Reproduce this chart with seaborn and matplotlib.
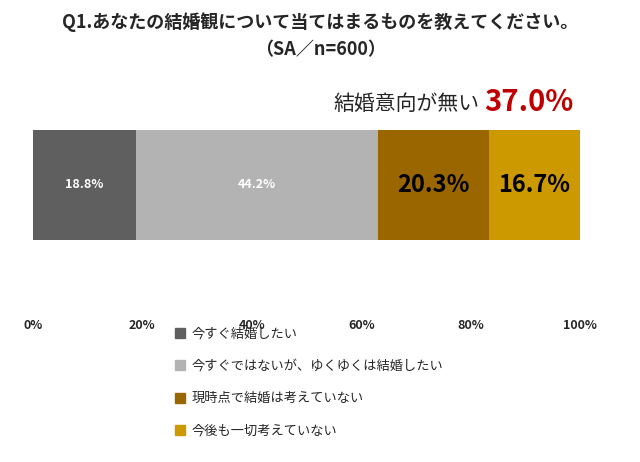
import matplotlib
matplotlib.use("Agg")
import matplotlib.pyplot as plt
import seaborn as sns
import numpy as np
import pandas as pd

categories = ["今すぐ結婚したい", "今すぐではないが、ゆくゆくは結婚したい", "現時点で結婚は考えていない", "今後も一切考えていない"]
values = [18.8, 44.2, 20.3, 16.7]
colors = ["#5f5f5f", "#b3b3b3", "#996600", "#cc9900"]
xticks = [0, 20, 40, 60, 80, 100]
xtick_labels = ["0%", "20%", "40%", "60%", "80%", "100%"]

sns.set_style("white")
plt.rcParams["font.family"] = ["Noto Sans CJK JP"]
plt.rcParams["font.sans-serif"] = ["Noto Sans CJK JP"]
fig = plt.figure(figsize=(6.4, 4.62), dpi=100)
ax = fig.add_axes([33/640, 1-240/462, 547/640, 110/462])

cum = np.cumsum(values)
for i in reversed(range(len(values))):
    df = pd.DataFrame({"v": [cum[i]], "y": ["a"]})
    sns.barplot(data=df, x="v", y="y", orient="h", color=colors[i], width=1.0,
                saturation=1, ax=ax, edgecolor="none")

starts = np.concatenate([[0], cum[:-1]])
for i, (s, v) in enumerate(zip(starts, values)):
    if i < 2:
        ax.text(s + v/2, 0, f"{v:.1f}%", ha="center", va="center", color="white",
                fontsize=9, fontweight="bold")
    else:
        ax.text(s + v/2, 0, f"{v:.1f}%", ha="center", va="center", color="black",
                fontsize=17, fontweight="bold")

ax.set_xlim(0, 100)
ax.set_ylim(0.5, -0.5)
ax.set_xticks(xticks)
ax.set_xticklabels(xtick_labels, fontsize=9, fontweight="bold")
ax.tick_params(axis="x", length=0, pad=57)
ax.set_yticks([])
ax.set_xlabel("")
ax.set_ylabel("")
for sp in ax.spines.values():
    sp.set_visible(False)

fig.text(0.5, 1-22/462, "Q1.あなたの結婚観について当てはまるものを教えてください。",
         ha="center", va="center", fontsize=13, fontweight="bold")
fig.text(0.5, 1-50/462, "（SA／n=600）", ha="center", va="center", fontsize=13, fontweight="bold")
fig.text(480/640, 1-104/462, "結婚意向が無い", ha="right", va="center", fontsize=15)
fig.text(484/640, 1-102/462, "37.0%", ha="left", va="center", fontsize=21,
         fontweight="bold", color="#c00000")

handles = [plt.Rectangle((0, 0), 1, 1, color=c) for c in colors]
fig.legend(handles, categories, loc="upper left", bbox_to_anchor=(163/640, 1-316/462),
           frameon=False, fontsize=9.5, handlelength=0.8, handleheight=0.8,
           labelspacing=1.45, handletextpad=0.5)

fig.savefig("out.png", dpi=100)
